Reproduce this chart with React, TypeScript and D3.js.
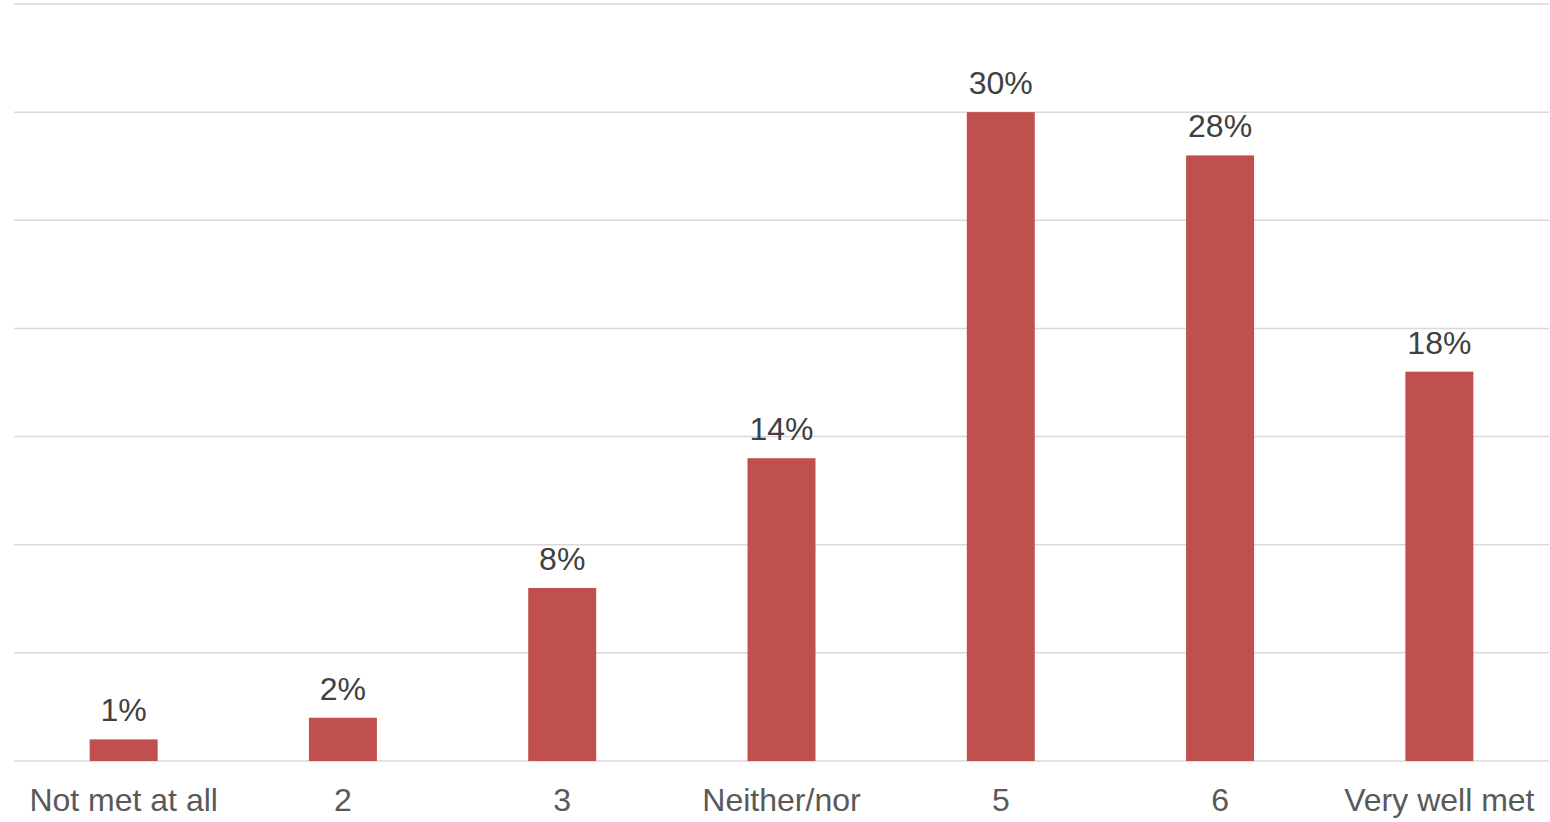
import React from "react";
import * as d3 from "d3";

const categories = ["Not met at all", "2", "3", "Neither/nor", "5", "6", "Very well met"];
const shares = [1, 2, 8, 14, 30, 28, 18];
const gridTicks = [0, 5, 10, 15, 20, 25, 30, 35];

const WIDTH = 1550;
const HEIGHT = 822;
const LEFT = 14;
const RIGHT = 1549;
const TOP = 4;
const BASE = 761;

export default function App() {
  const x = d3
    .scaleBand<string>()
    .domain(categories)
    .range([LEFT, RIGHT])
    .paddingInner(0.69)
    .paddingOuter(0.345);
  const y = d3.scaleLinear().domain([0, 35]).range([BASE, TOP]);
  const font = "'Liberation Sans', Arial, sans-serif";

  return (
    <svg
      width={WIDTH}
      height={HEIGHT}
      style={{ position: "absolute", left: 0, top: 0, background: "#fff" }}
    >
      {gridTicks.map((t) => (
        <line
          key={t}
          x1={LEFT}
          x2={RIGHT}
          y1={y(t)}
          y2={y(t)}
          stroke="#D9D9D9"
          strokeWidth={1.5}
        />
      ))}
      {categories.map((c, i) => {
        const bx = x(c)!;
        const bw = x.bandwidth();
        const cx = bx + bw / 2;
        return (
          <g key={c}>
            <rect x={bx} y={y(shares[i])} width={bw} height={y(0) - y(shares[i])} fill="#C0504D" />
            <text
              x={cx}
              y={y(shares[i]) - 18}
              textAnchor="middle"
              fontFamily={font}
              fontSize={32}
              fill="#404040"
            >
              {shares[i]}%
            </text>
            <text
              x={cx}
              y={811}
              textAnchor="middle"
              fontFamily={font}
              fontSize={32}
              fill="#595959"
            >
              {c}
            </text>
          </g>
        );
      })}
    </svg>
  );
}
